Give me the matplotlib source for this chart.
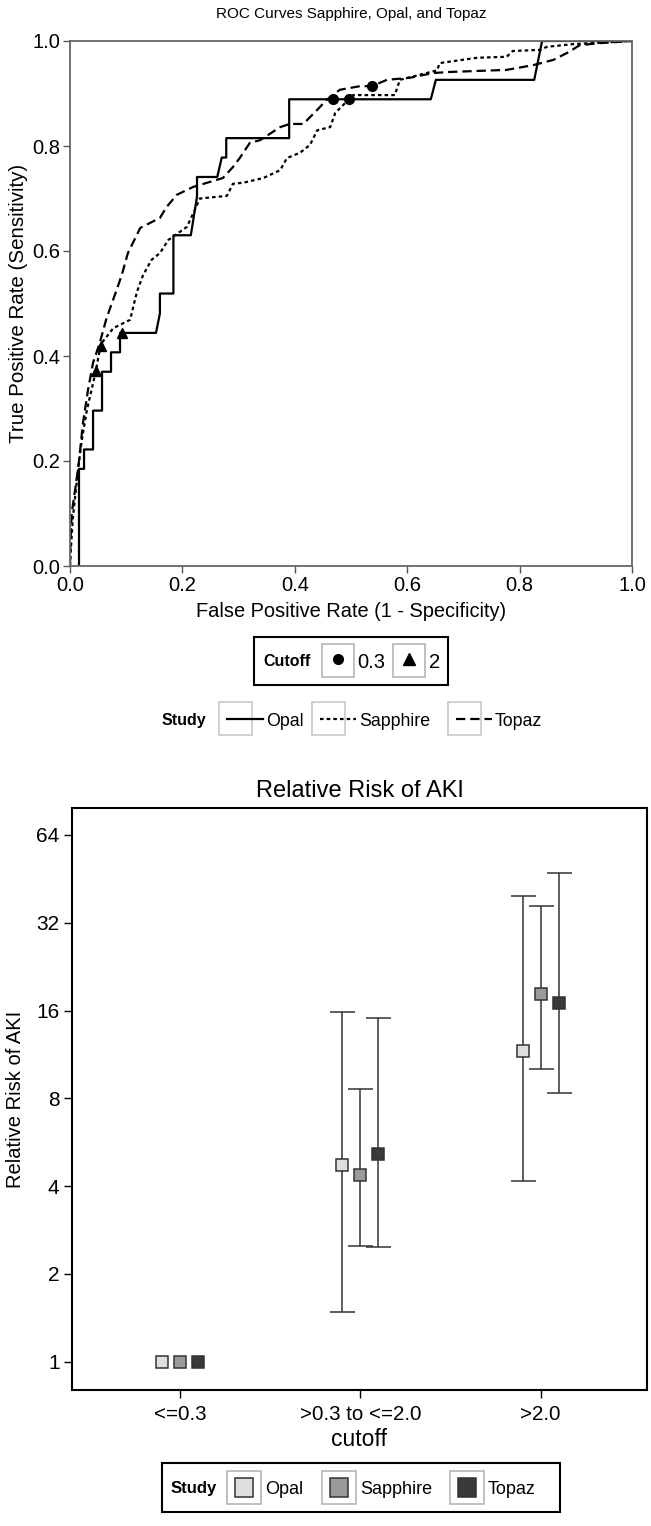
import numpy as np
import matplotlib
matplotlib.use("Agg")
import matplotlib.pyplot as plt
import matplotlib.transforms as mtransforms
from matplotlib.patches import Rectangle
from matplotlib.lines import Line2D

plt.rcParams['font.family'] = ['Liberation Sans', 'DejaVu Sans']

# ---- dados ROC ----
opal_fpr = [0.016, 0.016, 0.025, 0.025, 0.041, 0.041, 0.057, 0.057, 0.073, 0.073, 0.089, 0.089,
            0.153, 0.160, 0.160, 0.184, 0.184, 0.215, 0.226, 0.226, 0.262, 0.270, 0.278, 0.278,
            0.390, 0.390, 0.642, 0.651, 0.826, 0.840, 1.0]
opal_tpr = [0.0, 0.185, 0.185, 0.222, 0.222, 0.296, 0.296, 0.370, 0.370, 0.407, 0.407, 0.444,
            0.444, 0.481, 0.519, 0.519, 0.630, 0.630, 0.704, 0.741, 0.741, 0.778, 0.778, 0.815,
            0.815, 0.889, 0.889, 0.926, 0.926, 1.0, 1.0]

sapphire_fpr = [0.0, 0.002, 0.005, 0.009, 0.015, 0.021, 0.030, 0.041, 0.046, 0.055, 0.077, 0.107,
                0.119, 0.130, 0.145, 0.160, 0.175, 0.208, 0.222, 0.231, 0.279, 0.290, 0.308, 0.344,
                0.374, 0.386, 0.409, 0.427, 0.440, 0.463, 0.472, 0.486, 0.496, 0.504, 0.578, 0.587,
                0.605, 0.653, 0.658, 0.724, 0.777, 0.788, 0.836, 0.849, 0.895, 1.0]
sapphire_tpr = [0.0, 0.040, 0.090, 0.131, 0.190, 0.240, 0.297, 0.348, 0.372, 0.423, 0.453, 0.469,
                0.522, 0.554, 0.583, 0.596, 0.621, 0.646, 0.678, 0.700, 0.705, 0.728, 0.730, 0.739,
                0.754, 0.777, 0.787, 0.802, 0.830, 0.836, 0.863, 0.878, 0.889, 0.897, 0.897, 0.926,
                0.931, 0.944, 0.958, 0.968, 0.970, 0.981, 0.983, 0.989, 0.994, 1.0]

topaz_fpr = [0.0, 0.001, 0.003, 0.015, 0.023, 0.032, 0.041, 0.053, 0.065, 0.083, 0.092, 0.103,
             0.125, 0.160, 0.172, 0.190, 0.219, 0.244, 0.272, 0.290, 0.302, 0.320, 0.338, 0.374,
             0.391, 0.415, 0.440, 0.457, 0.480, 0.516, 0.537, 0.564, 0.605, 0.646, 0.676, 0.777,
             0.824, 0.860, 0.884, 0.907, 0.943, 1.0]
topaz_tpr = [0.0, 0.050, 0.100, 0.190, 0.272, 0.335, 0.387, 0.425, 0.472, 0.526, 0.554, 0.596,
             0.644, 0.663, 0.684, 0.707, 0.722, 0.730, 0.739, 0.760, 0.777, 0.806, 0.811, 0.836,
             0.842, 0.842, 0.869, 0.888, 0.907, 0.914, 0.914, 0.926, 0.930, 0.939, 0.941, 0.945,
             0.954, 0.964, 0.977, 0.992, 0.996, 1.0]

# pontos de corte (0.3 e 2) em cada estudo: Opal, Sapphire, Topaz
cut03_fpr = [0.468, 0.496, 0.537]
cut03_tpr = [0.889, 0.889, 0.914]
cut2_fpr = [0.092, 0.046, 0.055]
cut2_tpr = [0.444, 0.372, 0.420]

# ---- dados risco relativo ----
categorias = ['<=0.3', '>0.3 to <=2.0', '>2.0']
estudos = ['Opal', 'Sapphire', 'Topaz']
cores = ['#dedede', '#9a9a9a', '#3a3a3a']
rr = {'Opal': [1.0, 4.73, 11.6], 'Sapphire': [1.0, 4.37, 18.3], 'Topaz': [1.0, 5.16, 17.0]}
rr_low = {'Opal': [np.nan, 1.48, 4.17], 'Sapphire': [np.nan, 2.50, 10.1], 'Topaz': [np.nan, 2.48, 8.36]}
rr_high = {'Opal': [np.nan, 15.8, 39.6], 'Sapphire': [np.nan, 8.62, 36.5], 'Topaz': [np.nan, 15.1, 47.4]}

W, H = 651, 1526
fig = plt.figure(figsize=(W / 100, H / 100), dpi=100)
pix = mtransforms.Affine2D().scale(1 / W, -1 / H).translate(0, 1) + fig.transFigure


def axes_px(left, top, right, bottom):
    return fig.add_axes([left / W, 1 - bottom / H, (right - left) / W, (bottom - top) / H])


# ================= ROC =================
ax1 = axes_px(70, 41, 632, 566)
lw = 1.6
ax1.plot(opal_fpr, opal_tpr, color='black', lw=lw)
l_s, = ax1.plot(sapphire_fpr, sapphire_tpr, color='black', lw=lw)
l_s.set_dashes((1.6, 1.4))
l_t, = ax1.plot(topaz_fpr, topaz_tpr, color='black', lw=lw)
l_t.set_dashes((4.2, 2.2))
ax1.plot(cut03_fpr, cut03_tpr, 'o', color='black', ms=7, ls='none')
ax1.plot(cut2_fpr, cut2_tpr, '^', color='black', ms=7.5, ls='none')

ax1.set_xlim(0, 1)
ax1.set_ylim(0, 1)
ax1.set_xticks(np.arange(0, 1.01, 0.2))
ax1.set_yticks(np.arange(0, 1.01, 0.2))
ax1.set_xticklabels([f'{v:.1f}' for v in np.arange(0, 1.01, 0.2)])
ax1.set_yticklabels([f'{v:.1f}' for v in np.arange(0, 1.01, 0.2)])
ax1.tick_params(labelsize=14.5, length=5, width=1, color='#555555', pad=2)
for s in ax1.spines.values():
    s.set_color('#666666')
    s.set_linewidth(1.3)
ax1.set_xlabel('False Positive Rate (1 - Specificity)', fontsize=14.4, labelpad=5)
ax1.set_ylabel('True Positive Rate (Sensitivity)', fontsize=14.8, labelpad=3)
fig.text(351 / W, 1 - 14 / H, 'ROC Curves Sapphire, Opal, and Topaz', ha='center', va='center', fontsize=11)

# legenda "Cutoff"
fig.add_artist(Rectangle((254, 637), 194, 48, transform=pix, fill=False, ec='black', lw=1.5))
fig.text(263, 661, 'Cutoff', transform=pix, fontsize=11.5, fontweight='bold', va='center', ha='left')
for bx in [322, 393]:
    fig.add_artist(Rectangle((bx, 644), 32, 33, transform=pix, fill=False, ec='#b5b5b5', lw=1.2))
fig.add_artist(Line2D([338], [659], transform=pix, marker='o', color='black', ms=7))
fig.add_artist(Line2D([409], [659], transform=pix, marker='^', color='black', ms=8))
fig.text(357, 662, '0.3', transform=pix, fontsize=14.5, va='center', ha='left')
fig.text(429, 662, '2', transform=pix, fontsize=14.5, va='center', ha='left')

# legenda "Study" (linhas)
fig.text(162, 720, 'Study', transform=pix, fontsize=11.5, fontweight='bold', va='center', ha='left')
estilos = [None, (1.6, 1.4), (4.2, 2.2)]
caixas = [219, 312, 448]
for bx, nome, est in zip(caixas, estudos, estilos):
    fig.add_artist(Rectangle((bx, 702), 33, 33, transform=pix, fill=False, ec='#c8c8c8', lw=1.2))
    ln = Line2D([bx + 8, bx + 44], [719, 719], transform=pix, color='black', lw=lw)
    if est is not None:
        ln.set_dashes(est)
    fig.add_artist(ln)
    fig.text(bx + 47, 721, nome, transform=pix, fontsize=12.8, va='center', ha='left')

# ================= Risco relativo =================
ax2 = axes_px(72, 808, 647, 1390)
x = np.arange(len(categorias))
desloc = [-0.1, 0.0, 0.1]
for est, cor, d in zip(estudos, cores, desloc):
    y = np.array(rr[est])
    lo = np.array(rr_low[est])
    hi = np.array(rr_high[est])
    m = ~np.isnan(lo)
    ax2.errorbar(x[m] + d, y[m], yerr=[y[m] - lo[m], hi[m] - y[m]], fmt='none',
                 ecolor='#333333', elinewidth=1.1, capsize=9, capthick=1.1, zorder=2)
    ax2.plot(x + d, y, 's', ms=9, mfc=cor, mec='#333333', mew=1.1, ls='none', zorder=3)

ax2.set_yscale('log', base=2)
ax2.set_ylim(0.80, 79.2)
ax2.set_xlim(-0.6, 2.59)
ax2.set_yticks([1, 2, 4, 8, 16, 32, 64])
ax2.set_yticklabels(['1', '2', '4', '8', '16', '32', '64'])
ax2.yaxis.set_minor_locator(matplotlib.ticker.NullLocator())
ax2.set_xticks(x)
ax2.set_xticklabels(categorias)
ax2.tick_params(axis='y', labelsize=15, length=6, width=1, pad=3)
ax2.tick_params(axis='x', labelsize=14.8, length=6, width=1, pad=5)
for s in ax2.spines.values():
    s.set_linewidth(1.5)
ax2.set_xlabel('cutoff', fontsize=16.5, labelpad=3)
ax2.set_ylabel('Relative Risk of AKI', fontsize=14.5, labelpad=8)
ax2.set_title('Relative Risk of AKI', fontsize=17, pad=8)

# legenda inferior
fig.add_artist(Rectangle((162, 1463), 398, 49, transform=pix, fill=False, ec='black', lw=1.5))
fig.text(171, 1488, 'Study', transform=pix, fontsize=12, fontweight='bold', va='center', ha='left')
caixas2 = [227, 322, 450]
for bx, nome, cor in zip(caixas2, estudos, cores):
    fig.add_artist(Rectangle((bx, 1471), 34, 33, transform=pix, fill=False, ec='#b5b5b5', lw=1.2))
    fig.add_artist(Rectangle((bx + 8, 1478), 18, 19, transform=pix, fc=cor, ec='#333333', lw=1.1))
    fig.text(bx + 38, 1489, nome, transform=pix, fontsize=13, va='center', ha='left')

fig.savefig('out.png', dpi=100)
